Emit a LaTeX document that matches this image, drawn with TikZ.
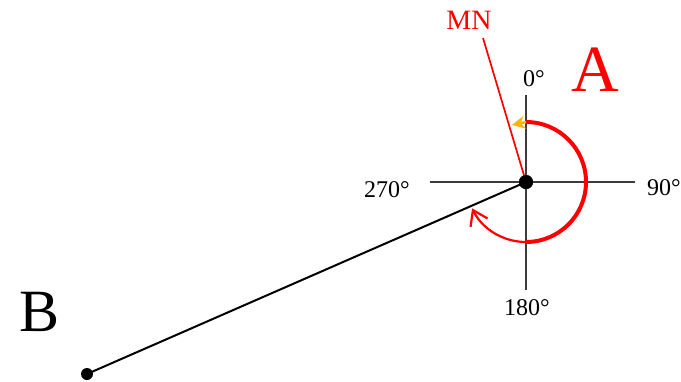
\documentclass[tikz,border=0pt]{standalone}
\usepackage{fontspec}
\setmainfont{Liberation Serif}
\usetikzlibrary{arrows.meta}
\definecolor{axisgrey}{RGB}{60,60,60}
\definecolor{tipyellow}{RGB}{255,180,0}
\tikzset{
	axis/.style={axisgrey, line width=2pt},
	degree/.style={anchor=base, font=\fontsize{24}{24}\selectfont},
	dot/.style={circle, fill=black, inner sep=0pt, minimum size=#1},
}

\begin{document}
\begin{tikzpicture}[x=1pt, y=-1pt]
			\useasboundingbox (0,0) rectangle (681,381);
			% points
			\node[dot=14pt] (a) at (526,182) {};
			\node[dot=12pt] (b) at (87,374) {};
			\coordinate (n) at (526,95);
			\coordinate (s) at (526,290);
			\coordinate (w) at (430,182);
			\coordinate (e) at (635,182);
			\coordinate (mntop) at (483,38);
			% axes
			\draw[axis] (n) -- (s);
			\draw[axis] (w) -- (e);
			\node[degree] (deg0) at (534,86) {0°};
			\node[degree] (deg90) at (664,195) {90°};
			\node[degree] (deg180) at (527,315) {180°};
			\node[degree] (deg270) at (387,197) {270°};
			% bearing lines
			\draw[red, line width=1.7pt] (mntop) -- (a.center);
			\node[red, anchor=base, font=\fontsize{28}{28}\selectfont] (mn) at (469,29) {MN};
			\draw[black, line width=2pt] (b.center) -- (a.center);
			% angle arcs
			\draw[red, line width=4pt] (a.center) ++(0,-60) arc[start angle=-90, end angle=90, radius=60];
			\draw[red, line width=2.2pt, -{Straight Barb[length=14pt, width=19pt]}] (a.center) ++(0,60) arc[start angle=90, end angle=154, radius=60];
			\draw[tipyellow, line width=2.5pt, -{Stealth[length=13pt, width=13pt]}] (a.center) ++(0,-60) -- ++(-14,3);
			\node[red, anchor=base, font=\fontsize{66}{66}\selectfont] (lblA) at (595,91) {A};
			\node[anchor=base, font=\fontsize{60}{60}\selectfont] (lblB) at (40,331) {B};
			\node[dot=14pt] at (a) {};
		\end{tikzpicture}
\end{document}
